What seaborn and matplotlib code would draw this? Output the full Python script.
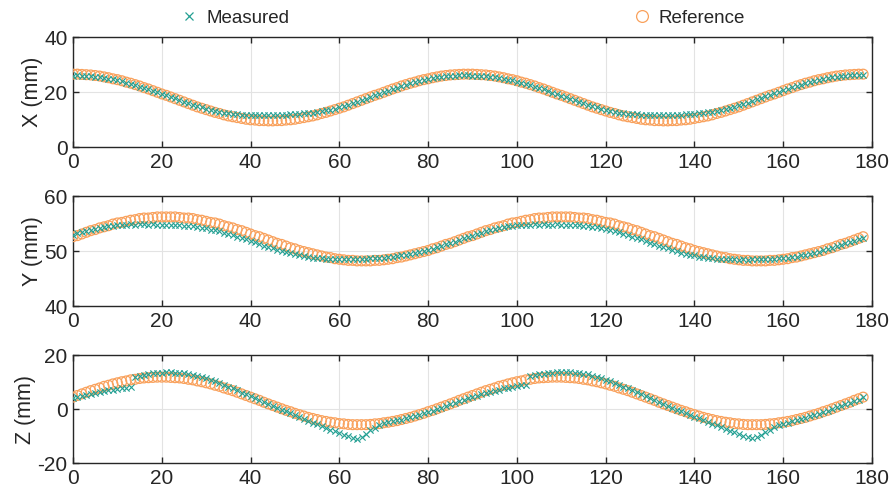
import numpy as np
import matplotlib
matplotlib.use("Agg")
import matplotlib.pyplot as plt
from matplotlib.lines import Line2D
import seaborn as sns

# --- data (sample index 0..178) ---
ref_x = [26.5, 26.5, 26.4, 26.3, 26.2, 26.0, 25.8, 25.5, 25.2, 24.8, 24.5, 24.1, 23.6, 23.2, 22.7,
         22.2, 21.6, 21.1, 20.5, 19.9, 19.3, 18.8, 18.2, 17.6, 17.0, 16.4, 15.8, 15.2, 14.6, 14.1,
         13.6, 13.1, 12.6, 12.2, 11.7, 11.3, 11.0, 10.7, 10.4, 10.1, 9.9, 9.8, 9.6, 9.6, 9.5,
         9.5, 9.6, 9.6, 9.8, 9.9, 10.1, 10.4, 10.7, 11.0, 11.3, 11.7, 12.2, 12.6, 13.1, 13.6,
         14.1, 14.6, 15.2, 15.8, 16.4, 17.0, 17.6, 18.2, 18.8, 19.3, 19.9, 20.5, 21.1, 21.6, 22.2,
         22.7, 23.2, 23.6, 24.1, 24.5, 24.8, 25.2, 25.5, 25.8, 26.0, 26.2, 26.3, 26.4, 26.5,
         26.5, 26.5, 26.4, 26.3, 26.2, 26.0, 25.8, 25.5, 25.2, 24.8, 24.5, 24.1, 23.6, 23.2, 22.7,
         22.2, 21.6, 21.1, 20.5, 19.9, 19.3, 18.8, 18.2, 17.6, 17.0, 16.4, 15.8, 15.2, 14.6, 14.1,
         13.6, 13.1, 12.6, 12.2, 11.7, 11.3, 11.0, 10.7, 10.4, 10.1, 9.9, 9.8, 9.6, 9.6, 9.5,
         9.5, 9.6, 9.6, 9.8, 9.9, 10.1, 10.4, 10.7, 11.0, 11.3, 11.7, 12.2, 12.6, 13.1, 13.6,
         14.1, 14.6, 15.2, 15.8, 16.4, 17.0, 17.6, 18.2, 18.8, 19.3, 19.9, 20.5, 21.1, 21.6, 22.2,
         22.7, 23.2, 23.6, 24.1, 24.5, 24.8, 25.2, 25.5, 25.8, 26.0, 26.2, 26.3, 26.4, 26.5,
         26.5]
meas_x = [26.0, 26.1, 26.0, 25.9, 25.8, 25.6, 25.4, 25.2, 24.9, 24.6, 24.2, 23.9, 23.4, 23.0, 22.5,
          22.0, 21.5, 21.0, 20.4, 19.9, 19.3, 18.8, 18.2, 17.7, 17.1, 16.5, 16.0, 15.4, 14.9, 14.4,
          13.9, 13.5, 13.1, 12.8, 12.5, 12.2, 12.1, 11.9, 11.8, 11.7, 11.7, 11.6, 11.7, 11.6, 11.7,
          11.7, 11.8, 11.7, 11.8, 11.9, 12.0, 12.0, 12.2, 12.3, 12.5, 12.7, 13.0, 13.3, 13.6, 14.0,
          14.4, 14.9, 15.3, 15.9, 16.4, 17.0, 17.6, 18.2, 18.8, 19.4, 20.0, 20.5, 21.1, 21.6, 22.1,
          22.6, 23.1, 23.5, 23.9, 24.3, 24.7, 25.0, 25.3, 25.5, 25.7, 25.9, 26.0, 26.1, 26.1,
          26.1, 26.0, 26.0, 25.9, 25.7, 25.6, 25.4, 25.1, 24.9, 24.5, 24.2, 23.8, 23.4, 23.0, 22.5,
          22.0, 21.5, 21.0, 20.4, 19.8, 19.3, 18.7, 18.2, 17.6, 17.0, 16.5, 15.9, 15.4, 14.9, 14.4,
          13.9, 13.5, 13.1, 12.8, 12.5, 12.3, 12.1, 12.0, 11.9, 11.8, 11.8, 11.7, 11.8, 11.7, 11.7,
          11.8, 11.7, 11.8, 11.8, 11.9, 12.0, 12.1, 12.2, 12.4, 12.6, 12.8, 13.1, 13.4, 13.8, 14.2,
          14.6, 15.1, 15.6, 16.1, 16.7, 17.3, 17.8, 18.4, 19.0, 19.6, 20.1, 20.7, 21.2, 21.8, 22.3,
          22.7, 23.2, 23.6, 24.0, 24.4, 24.8, 25.1, 25.4, 25.6, 25.8, 26.0, 26.1, 26.1, 26.2, 26.2]

ref_y = [52.6, 52.8, 53.1, 53.4, 53.7, 53.9, 54.2, 54.4, 54.6, 54.9, 55.1, 55.2, 55.4, 55.6, 55.7,
         55.9, 56.0, 56.0, 56.1, 56.2, 56.2, 56.2,
         56.2, 56.2, 56.1, 56.0, 56.0, 55.9, 55.7, 55.6, 55.4, 55.2, 55.1, 54.9, 54.6, 54.4, 54.2,
         53.9, 53.7, 53.4, 53.1, 52.8, 52.6, 52.3, 52.0, 51.7, 51.4, 51.2, 50.9, 50.6, 50.4, 50.1,
         49.9, 49.7, 49.5, 49.3, 49.1, 48.9, 48.8, 48.6, 48.5, 48.4, 48.3, 48.3, 48.2, 48.2,
         48.2, 48.2, 48.3, 48.3, 48.4, 48.5, 48.6, 48.8, 48.9, 49.1, 49.3, 49.5, 49.7, 49.9, 50.1,
         50.4, 50.6, 50.9, 51.2, 51.4, 51.7, 52.0, 52.3, 52.6, 52.8, 53.1, 53.4, 53.7, 53.9, 54.2,
         54.4, 54.6, 54.9, 55.1, 55.2, 55.4, 55.6, 55.7, 55.9, 56.0, 56.0, 56.1, 56.2, 56.2,
         56.2,
         56.2, 56.2, 56.1, 56.0, 56.0, 55.9, 55.7, 55.6, 55.4, 55.2, 55.1, 54.9, 54.6, 54.4, 54.2,
         53.9, 53.7, 53.4, 53.1, 52.8, 52.6, 52.3, 52.0, 51.7, 51.4, 51.2, 50.9, 50.6, 50.4, 50.1,
         49.9, 49.7, 49.5, 49.3, 49.1, 48.9, 48.8, 48.6, 48.5, 48.4, 48.3, 48.3, 48.2, 48.2,
         48.2, 48.2, 48.3, 48.3, 48.4, 48.5, 48.6, 48.8, 48.9, 49.1, 49.3, 49.5, 49.7, 49.9, 50.1,
         50.4, 50.6, 50.9, 51.2, 51.4, 51.7, 52.0, 52.3, 52.6]
meas_y = [53.0, 53.2, 53.4, 53.6, 53.8, 54.0, 54.2, 54.3, 54.5, 54.6, 54.7, 54.8, 54.8, 54.9, 54.8,
          54.9, 54.9, 54.8, 54.9, 54.8, 54.8, 54.7,
          54.8, 54.7, 54.7, 54.6, 54.6, 54.5, 54.4, 54.2, 54.1, 53.9, 53.8, 53.6, 53.3, 53.1, 52.9,
          52.6, 52.4, 52.1, 51.8, 51.6, 51.3, 51.0, 50.7, 50.5, 50.2, 50.0, 49.8, 49.6, 49.4, 49.2,
          49.1, 48.9, 48.8, 48.7, 48.7, 48.6, 48.6, 48.5, 48.6, 48.5, 48.6, 48.5, 48.6, 48.6,
          48.6, 48.7, 48.7, 48.8, 48.8, 48.9, 49.0, 49.1, 49.2, 49.3, 49.5, 49.6, 49.8, 50.0, 50.2,
          50.4, 50.7, 50.9, 51.2, 51.4, 51.7, 52.0, 52.3, 52.5, 52.8, 53.1, 53.3, 53.6, 53.8, 54.0,
          54.2, 54.3, 54.5, 54.6, 54.7, 54.7, 54.8, 54.8, 54.9, 54.8, 54.9, 54.8, 54.8, 54.9,
          54.8,
          54.8, 54.8, 54.7, 54.7, 54.6, 54.5, 54.4, 54.3, 54.1, 54.0, 53.8, 53.6, 53.4, 53.1, 52.9,
          52.6, 52.4, 52.1, 51.8, 51.5, 51.3, 51.0, 50.7, 50.5, 50.2, 50.0, 49.7, 49.5, 49.3, 49.2,
          49.0, 48.9, 48.8, 48.7, 48.6, 48.6, 48.5, 48.5, 48.5, 48.4, 48.5, 48.4, 48.5, 48.5,
          48.5, 48.5, 48.6, 48.6, 48.7, 48.7, 48.8, 48.9, 49.0, 49.2, 49.3, 49.5, 49.7, 49.9, 50.1,
          50.4, 50.6, 50.9, 51.1, 51.4, 51.6, 51.9, 52.1, 52.3]

ref_z = [4.4, 5.0, 5.6, 6.2, 6.8, 7.3, 7.8, 8.4, 8.8, 9.3, 9.7, 10.1, 10.4, 10.8, 11.0,
         11.3, 11.5, 11.6, 11.7, 11.8, 11.8,
         11.8, 11.7, 11.6, 11.5, 11.3, 11.0, 10.8, 10.4, 10.1, 9.7, 9.3, 8.8, 8.4, 7.8, 7.3,
         6.8, 6.2, 5.6, 5.0, 4.4, 3.8, 3.2, 2.5, 1.9, 1.3, 0.7, 0.1, -0.5, -1.0, -1.6,
         -2.1, -2.6, -3.1, -3.5, -3.9, -4.3, -4.6, -4.9, -5.1, -5.4, -5.5, -5.7, -5.8, -5.8,
         -5.8, -5.8, -5.7, -5.5, -5.4, -5.1, -4.9, -4.6, -4.3, -3.9, -3.5, -3.1, -2.6, -2.1, -1.6,
         -1.0, -0.5, 0.1, 0.7, 1.3, 1.9, 2.5, 3.2, 3.8, 4.4, 5.0, 5.6, 6.2, 6.8, 7.3,
         7.8, 8.4, 8.8, 9.3, 9.7, 10.1, 10.4, 10.8, 11.0, 11.3, 11.5, 11.6, 11.7, 11.8,
         11.8,
         11.8, 11.7, 11.6, 11.5, 11.3, 11.0, 10.8, 10.4, 10.1, 9.7, 9.3, 8.8, 8.4, 7.8, 7.3,
         6.8, 6.2, 5.6, 5.0, 4.4, 3.8, 3.2, 2.5, 1.9, 1.3, 0.7, 0.1, -0.5, -1.0, -1.6,
         -2.1, -2.6, -3.1, -3.5, -3.9, -4.3, -4.6, -4.9, -5.1, -5.4, -5.5, -5.7, -5.8, -5.8,
         -5.8, -5.8, -5.7, -5.5, -5.4, -5.1, -4.9, -4.6, -4.3, -3.9, -3.5, -3.1, -2.6, -2.1, -1.6,
         -1.0, -0.5, 0.1, 0.7, 1.3, 1.9, 2.5, 3.2, 3.8, 4.4]
meas_z = [4.0, 4.3, 4.7, 5.1, 5.5, 5.9, 6.2, 6.6, 6.9, 7.2, 7.5, 7.7, 7.9, 8.1,
          12.0, 12.4, 12.7, 13.0, 13.2, 13.4, 13.5,
          13.6, 13.6, 13.5, 13.4, 13.2, 13.0, 12.7, 12.3, 11.9, 11.4, 10.8, 10.2, 9.6, 9.0, 8.3,
          7.6, 6.9, 6.1, 5.4, 4.7, 3.9, 3.2, 2.5, 1.8, 1.1, 0.4, -0.3,
          -0.9, -1.6, -2.3, -2.9, -3.6, -4.3, -5.0, -5.7, -6.4, -7.0, -7.7, -8.3, -8.9, -9.5,
          -10.0, -10.6, -11.2, -10.3, -9.1, -7.9, -6.9, -6.0, -5.3, -4.9, -4.5,
          -4.2, -3.9, -3.4, -3.0, -2.6, -2.1, -1.6, -1.1, -0.6, 0.0, 0.5, 1.1, 1.7, 2.3, 2.9,
          3.4, 4.0, 4.5, 5.0, 5.5, 6.0, 6.4, 6.8, 7.2, 7.6, 7.9, 8.2, 8.5, 8.8, 9.0,
          12.1, 12.5, 12.8, 13.1, 13.3, 13.5, 13.6,
          13.7, 13.6, 13.6, 13.5, 13.3, 13.1, 12.8, 12.4, 12.0, 11.5, 10.9, 10.3, 9.7, 9.0, 8.3,
          7.6, 6.9, 6.2, 5.4, 4.7, 4.0, 3.3, 2.6, 1.9, 1.2, 0.5, -0.2,
          -0.9, -1.6, -2.2, -2.9, -3.5, -4.2, -4.8, -5.5, -6.1, -6.8, -7.4, -8.0, -8.7, -9.3,
          -9.9, -10.4, -10.9, -10.5, -9.6, -8.6, -7.6, -6.7, -6.0, -5.4, -5.0,
          -4.5, -4.1, -3.6, -3.2, -2.7, -2.2, -1.7, -1.1, -0.6, 0.0, 0.6, 1.2, 1.8, 2.4, 3.0,
          3.5, 4.3]

samples = np.arange(len(ref_x))

axis_labels = ["X (mm)", "Y (mm)", "Z (mm)"]
y_limits = [(0, 40), (40, 60), (-20, 20)]
y_ticks = [[0, 20, 40], [40, 50, 60], [-20, 0, 20]]
x_ticks = list(range(0, 181, 20))

teal = "#24A093"
orange = "#F9A15C"

sns.set_style("ticks")
plt.rcParams["font.family"] = ["Liberation Sans", "DejaVu Sans"]
plt.rcParams["axes.unicode_minus"] = False

fig = plt.figure(figsize=(8.93, 4.97), dpi=100)

# axes boxes in figure fractions (left, bottom, width, height)
boxes = [[0.0817, 0.7042, 0.8948, 0.2213],
         [0.0817, 0.3843, 0.8948, 0.2213],
         [0.0817, 0.0684, 0.8948, 0.2173]]

series = [(ref_x, meas_x), (ref_y, meas_y), (ref_z, meas_z)]

for i, (ref_vals, meas_vals) in enumerate(series):
    ax = fig.add_axes(boxes[i])
    sns.scatterplot(x=samples, y=ref_vals, ax=ax, marker="o", s=50,
                    facecolors="none", edgecolor=orange, linewidth=0.9, zorder=3)
    sns.scatterplot(x=samples, y=meas_vals, ax=ax, marker="x", s=20,
                    color=teal, linewidth=0.8, zorder=4)
    ax.set_xlim(0, 180)
    ax.set_ylim(*y_limits[i])
    ax.set_xticks(x_ticks)
    ax.set_yticks(y_ticks[i])
    ax.grid(True, color="#e3e3e3", linewidth=0.8)
    ax.set_axisbelow(True)
    ax.tick_params(direction="in", top=True, right=True, length=4.5, width=1,
                   labelsize=15, colors="#262626", pad=4)
    for sp in ax.spines.values():
        sp.set_visible(True)
        sp.set_color("#262626")
        sp.set_linewidth(1.0)
    ax.set_ylabel(axis_labels[i], fontsize=15.5, color="#262626", labelpad=1)
    ax.set_xlabel("")

handles = [Line2D([], [], marker="x", linestyle="none", color=teal, markersize=6, markeredgewidth=0.9),
           Line2D([], [], marker="o", linestyle="none", markerfacecolor="none",
                  markeredgecolor=orange, markersize=8.5, markeredgewidth=0.9)]
fig.legend(handles, ["Measured", "Reference"], ncol=2, loc="center",
           bbox_to_anchor=(0.518, 0.963), frameon=False, fontsize=13.5,
           handlelength=1.0, handletextpad=0.4, columnspacing=18.3)

fig.savefig("out.png", dpi=100)
